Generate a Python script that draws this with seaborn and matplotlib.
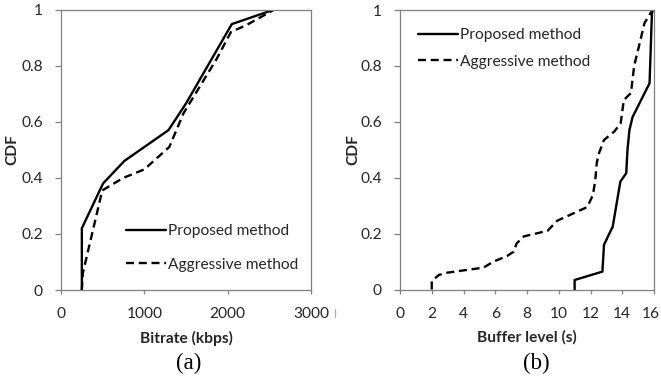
import matplotlib
matplotlib.use("Agg")
import matplotlib.pyplot as plt
import matplotlib.transforms as mtransforms
from matplotlib.lines import Line2D
import seaborn as sns
import pandas as pd

# ---- data ----
series_names = ["Proposed method", "Aggressive method"]

bitrate_proposed_x = [250, 250, 505, 760, 1290, 1500, 2050, 2560]
bitrate_proposed_y = [0, 0.22, 0.38, 0.46, 0.57, 0.665, 0.948, 1.0]
bitrate_aggr_x = [250, 262, 495, 750, 1000, 1300, 1470, 1870, 2040, 2230, 2560]
bitrate_aggr_y = [0, 0.06, 0.355, 0.40, 0.43, 0.51, 0.63, 0.825, 0.92, 0.945, 1.0]

buffer_proposed_x = [11.0, 11.0, 12.75, 12.85, 13.4, 13.88, 14.25, 14.33, 14.45, 14.65, 15.72, 15.87, 15.95]
buffer_proposed_y = [0, 0.034, 0.064, 0.16, 0.225, 0.386, 0.416, 0.5, 0.57, 0.617, 0.738, 0.99, 1.0]
buffer_aggr_x = [2.0, 2.0, 2.45, 2.95, 4.2, 5.25, 5.9, 6.75, 7.15, 7.35, 7.8, 9.3, 9.9, 11.8,
                 12.15, 12.3, 12.4, 12.55, 12.85, 13.5, 13.9, 14.1, 14.55, 14.75, 15.15, 15.4, 15.9]
buffer_aggr_y = [0, 0.03, 0.052, 0.06, 0.07, 0.078, 0.1, 0.12, 0.135, 0.165, 0.19, 0.21, 0.246, 0.295,
                 0.338, 0.39, 0.455, 0.49, 0.535, 0.565, 0.595, 0.678, 0.703, 0.80, 0.893, 0.953, 1.0]

bitrate_ticks = [0, 1000, 2000, 3000]
buffer_ticks = [0, 2, 4, 6, 8, 10, 12, 14, 16]
cdf_ticks = [0, 0.2, 0.4, 0.6, 0.8, 1]
cdf_labels = ["0", "0.2", "0.4", "0.6", "0.8", "1"]

x_labels = ["Bitrate (kbps)", "Buffer level (s)"]
y_label = "CDF"
captions = ["(a)", "(b)"]

# ---- style ----
sns.set_style("ticks")
plt.rcParams["font.family"] = ["Lato", "DejaVu Sans"]
plt.rcParams["font.size"] = 11
plt.rcParams["text.color"] = "#262626"
plt.rcParams["axes.labelcolor"] = "#262626"
plt.rcParams["xtick.color"] = "#808080"
plt.rcParams["ytick.color"] = "#808080"
plt.rcParams["xtick.labelcolor"] = "#262626"
plt.rcParams["ytick.labelcolor"] = "#262626"

fig = plt.figure(figsize=(6.61, 3.78), dpi=100)
W, H = 661.0, 378.0

def axes_box(l, r, t, b):
    return [l / W, 1 - b / H, (r - l) / W, (b - t) / H]

ax1 = fig.add_axes(axes_box(61, 311, 9.5, 290))
ax2 = fig.add_axes(axes_box(400, 654, 10, 289.5))

def make_df(x, y):
    return pd.DataFrame({"x": x, "y": y})

LW = 1.7
DASH = (3.4, 2.0)
FS = 11.2

panels = [
    (ax1, bitrate_proposed_x, bitrate_proposed_y, bitrate_aggr_x, bitrate_aggr_y, (0, 3000), bitrate_ticks),
    (ax2, buffer_proposed_x, buffer_proposed_y, buffer_aggr_x, buffer_aggr_y, (0, 16), buffer_ticks),
]

for i, (ax, px, py, ax_x, ax_y, xlim, xticks) in enumerate(panels):
    sns.lineplot(data=make_df(px, py), x="x", y="y", ax=ax, sort=False, estimator=None,
                 color="black", linewidth=LW, label=series_names[0])
    sns.lineplot(data=make_df(ax_x, ax_y), x="x", y="y", ax=ax, sort=False, estimator=None,
                 color="black", linewidth=LW, linestyle=(0, DASH), label=series_names[1])
    ax.set_xlim(*xlim)
    ax.set_ylim(0, 1)
    ax.set_xticks(xticks)
    ax.set_xticklabels([str(t) for t in xticks])
    ax.set_yticks(cdf_ticks)
    ax.set_yticklabels(cdf_labels)
    for s in ax.spines.values():
        s.set_color("#808080")
        s.set_linewidth(0.9)
    ax.tick_params(axis="x", direction="out", length=3, width=0.9, pad=9.5, labelsize=FS)
    ax.tick_params(axis="y", direction="out", length=4, width=0.9, pad=9, labelsize=FS)
    ax.set_xlabel(x_labels[i], fontweight="bold", fontsize=FS)
    ax.set_ylabel(y_label, fontweight="bold", fontsize=FS)
    ax.xaxis.label.set_va("center")
    ax.yaxis.label.set_va("center")

ax1.xaxis.set_label_coords(0.5, -48 / 280)
ax2.xaxis.set_label_coords(0.5, -48 / 280)
ax1.yaxis.set_label_coords(-49 / 250, 0.5)
ax2.yaxis.set_label_coords(-47 / 254, 0.5)

# keep the last tick label of panel (b) inside the canvas
last = ax2.get_xticklabels()[-1]
last.set_transform(last.get_transform() + mtransforms.ScaledTranslation(-3 / 100, 0, fig.dpi_scale_trans))

ax1.legend(loc="upper left", bbox_to_anchor=(0.26, 0.235), frameon=False, borderpad=0,
           borderaxespad=0, handlelength=2.6, handletextpad=0.1, labelspacing=1.25, fontsize=FS)
ax2.legend(loc="upper left", bbox_to_anchor=(0.071, 0.935), frameon=False, borderpad=0,
           borderaxespad=0, handlelength=2.6, handletextpad=0.1, labelspacing=0.8, fontsize=FS)

fig.text(189 / W, 1 - 363 / H, captions[0], ha="center", va="center",
         family=["Liberation Serif"], fontsize=16.5, color="black")
fig.text(536 / W, 1 - 363 / H, captions[1], ha="center", va="center",
         family=["Liberation Serif"], fontsize=16.5, color="black")

# small stray mark left of panel (b) axis labels
fig.add_artist(Line2D([335 / W, 335 / W], [1 - 309 / H, 1 - 317 / H], color="#b0b0b0", linewidth=0.9))

fig.savefig("out.png", dpi=100)
